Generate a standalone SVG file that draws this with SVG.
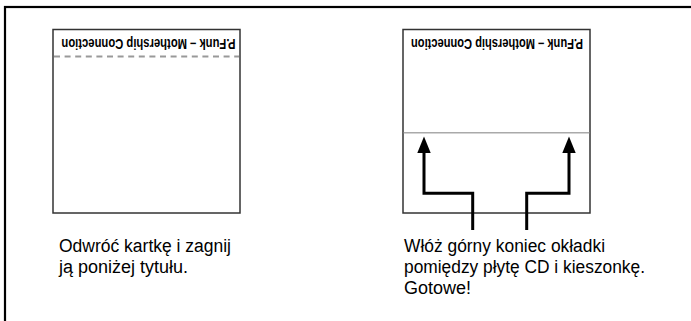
<svg xmlns="http://www.w3.org/2000/svg" width="691" height="321" viewBox="0 0 691 321">
<style>
.frame{fill:none;stroke:#000;stroke-width:2.2}
.card{fill:#fff;stroke:#333;stroke-width:1.5}
.title{font-family:"Liberation Sans",Arial,sans-serif;font-weight:bold;font-size:15px;fill:#000}
.label{font-family:"Liberation Sans",Arial,sans-serif;font-size:18px;fill:#000}
.fold{stroke:#999;stroke-width:2;stroke-dasharray:6 4.6;fill:none}
.slot{stroke:#aaa;stroke-width:1.5;fill:none}
.line{fill:none;stroke:#000;stroke-width:3}
.head{fill:#000}
</style>
<rect width="691" height="321" fill="#fff"/>
<rect class="frame" x="5" y="7" width="720" height="340"/>
<g id="card-left">
<rect class="card" x="53" y="29.5" width="187" height="183.5"/>
<text class="title" x="148.5" y="38.5" text-anchor="middle" textLength="174" lengthAdjust="spacingAndGlyphs" transform="rotate(180 148.5 38.5)">P.Funk – Mothership Connection</text>
<line class="fold" x1="54" y1="56.5" x2="239" y2="56.5"/>
</g>
<g id="card-right">
<rect class="card" x="403" y="29.5" width="187" height="183.5"/>
<text class="title" x="497" y="38.5" text-anchor="middle" textLength="172" lengthAdjust="spacingAndGlyphs" transform="rotate(180 497 38.5)">P.Funk – Mothership Connection</text>
<line class="slot" x1="403.7" y1="132.7" x2="589.3" y2="132.7"/>
</g>
<g id="connectors">
<path class="line" d="M472.7,230 V193.3 H424 V153"/>
<path class="head" d="M417.3,153 L424,136.5 L430.7,153 Z"/>
<path class="line" d="M526.7,230 V193.3 H569 V153"/>
<path class="head" d="M562.3,153 L569,136.5 L575.7,153 Z"/>
</g>
<g id="caption-left">
<text class="label" x="59" y="252" textLength="172" lengthAdjust="spacingAndGlyphs">Odwróć kartkę i zagnij</text>
<text class="label" x="59" y="273">ją poniżej tytułu.</text>
</g>
<g id="caption-right">
<text class="label" x="404" y="252" textLength="201" lengthAdjust="spacingAndGlyphs">Włóż górny koniec okładki</text>
<text class="label" x="404" y="273" textLength="241" lengthAdjust="spacingAndGlyphs">pomiędzy płytę CD i kieszonkę.</text>
<text class="label" x="404" y="294">Gotowe!</text>
</g>
</svg>
